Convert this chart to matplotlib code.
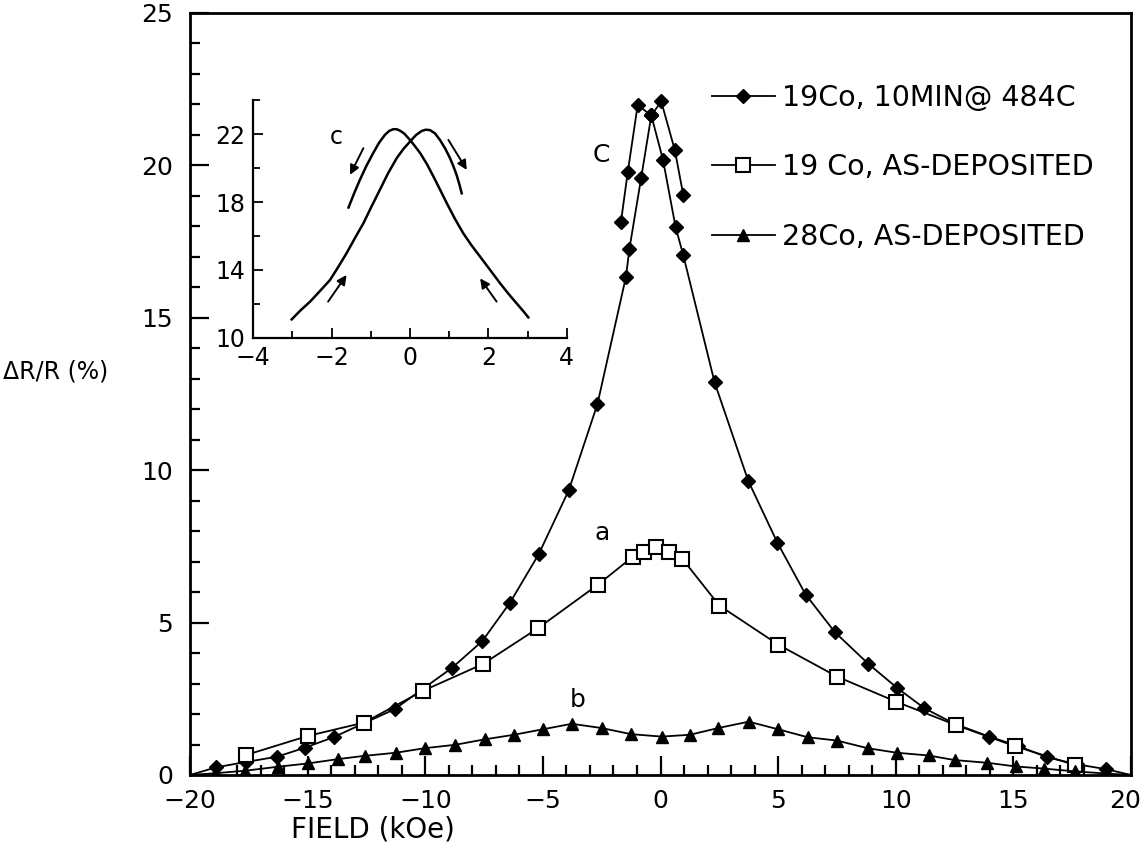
import matplotlib
matplotlib.use("Agg")
import matplotlib.pyplot as plt
from matplotlib.ticker import MultipleLocator
from matplotlib.transforms import ScaledTranslation

plt.rcParams['font.family'] = ['DejaVu Sans']

# ---- data: series c (19Co, 10 min @ 484C), diamonds ----
field_c = [-20, -18.9, -17.6, -16.3, -15.1, -13.9, -12.6, -11.3, -10.15, -8.87, -7.58,
           -6.4, -5.18, -3.9, -2.68, -1.47, -1.32, -0.82, -0.39, 0.11, 0.64, 0.97,
           2.3, 3.73, 4.97, 6.17, 7.42, 8.83, 10.07, 11.22, 12.5, 13.97, 15.2, 16.44,
           17.7, 18.95, 20]
dr_c = [0, 0.25, 0.43, 0.6, 0.9, 1.24, 1.7, 2.16, 2.8, 3.51, 4.39,
        5.65, 7.24, 9.34, 12.17, 16.34, 17.27, 19.60, 21.64, 20.17, 17.98, 17.05,
        12.88, 9.65, 7.62, 5.92, 4.68, 3.65, 2.85, 2.19, 1.68, 1.26, 0.95, 0.58,
        0.35, 0.19, 0]
field_c_left = [-1.68, -1.39, -0.97, -0.39]
dr_c_left = [18.15, 19.79, 21.98, 21.64]
field_c_right = [-0.39, 0.03, 0.61, 0.97]
dr_c_right = [21.64, 22.10, 20.50, 19.02]

# ---- series a (19Co, as-deposited), open squares ----
field_a = [-17.6, -15.0, -12.6, -10.1, -7.55, -5.2, -2.65, -1.18, -0.71, -0.18,
           0.35, 0.92, 2.5, 5.0, 7.5, 10.0, 12.55, 15.05, 17.6]
dr_a = [0.66, 1.28, 1.72, 2.76, 3.64, 4.82, 6.25, 7.16, 7.31, 7.48,
        7.31, 7.10, 5.56, 4.28, 3.23, 2.41, 1.64, 0.95, 0.33]

# ---- series b (28Co, as-deposited), triangles ----
field_b = [-20, -18.9, -17.66, -16.27, -14.98, -13.72, -12.57, -11.25, -10.02, -8.73,
           -7.47, -6.23, -5.0, -3.77, -2.5, -1.25, 0.05, 1.25, 2.45, 3.75, 5.0, 6.25,
           7.5, 8.8, 10.05, 11.4, 12.5, 13.9, 15.1, 16.3, 17.6, 18.9, 20]
dr_b = [0, 0.06, 0.14, 0.27, 0.38, 0.52, 0.63, 0.73, 0.88, 0.99,
        1.17, 1.32, 1.5, 1.68, 1.54, 1.34, 1.26, 1.32, 1.54, 1.75, 1.5, 1.24,
        1.13, 0.88, 0.73, 0.64, 0.49, 0.40, 0.28, 0.21, 0.12, 0.05, 0]

# ---- inset curves ----
inset_a_x = [-1.57, -1.42, -1.28, -1.11, -0.94, -0.79, -0.64, -0.53, -0.43, -0.34,
             -0.26, -0.15, -0.04, 0.1, 0.26, 0.43, 0.6, 0.77, 0.94, 1.15, 1.36,
             1.57, 1.79, 2.05, 2.3, 2.51, 2.72, 2.88, 3.02]
inset_a_y = [17.68, 18.55, 19.31, 20.15, 20.89, 21.5, 21.97, 22.2, 22.30, 22.3,
             22.22, 22.05, 21.77, 21.38, 20.89, 20.25, 19.5, 18.72, 17.93, 17.0, 16.16,
             15.45, 14.78, 13.98, 13.21, 12.6, 12.03, 11.6, 11.2]
inset_b_x = [-3.02, -2.8, -2.55, -2.3, -2.04, -1.83, -1.62, -1.4, -1.19, -0.98,
             -0.77, -0.56, -0.34, -0.17, 0.0, 0.15, 0.3, 0.4, 0.51, 0.64, 0.77,
             0.9, 1.02, 1.11, 1.19, 1.26, 1.32]
inset_b_y = [11.08, 11.6, 12.13, 12.75, 13.41, 14.18, 14.98, 15.9, 16.75, 17.75,
             18.72, 19.7, 20.59, 21.13, 21.57, 21.95, 22.2, 22.27, 22.25, 22.05, 21.65,
             21.15, 20.6, 20.1, 19.6, 19.05, 18.52]

labels = ["19Co, 10MIN@ 484C", "19 Co, AS-DEPOSITED", "28Co, AS-DEPOSITED"]
x_ticks = [-20, -15, -10, -5, 0, 5, 10, 15, 20]
y_ticks = [0, 5, 10, 15, 20, 25]
inset_x_ticks = [-4, -2, 0, 2, 4]
inset_y_ticks = [10, 14, 18, 22]

fig = plt.figure(figsize=(11.42, 8.44), dpi=100)
ax = fig.add_axes([190 / 1142, 1 - 775 / 844, (1131 - 190) / 1142, (775 - 13) / 844])

lw = 1.3
l1, = ax.plot(field_c, dr_c, color='black', lw=lw, marker='D', ms=7.5,
              markevery=slice(1, len(field_c) - 1))
ax.plot(field_c_left, dr_c_left, color='black', lw=lw, marker='D', ms=7.5)
ax.plot(field_c_right, dr_c_right, color='black', lw=lw, marker='D', ms=7.5)
l2, = ax.plot(field_a, dr_a, color='black', lw=lw, marker='s', ms=10,
              mfc='white', mec='black', mew=1.5)
l3, = ax.plot(field_b, dr_b, color='black', lw=lw, marker='^', ms=8,
              markevery=slice(1, len(field_b) - 1))

ax.set_xlim(-20, 20)
ax.set_ylim(0, 25)
ax.set_xticks(x_ticks)
ax.set_xticklabels([str(t).replace('-', '\u2212') for t in x_ticks])
ax.set_yticks(y_ticks)
ax.xaxis.set_minor_locator(MultipleLocator(1))
ax.yaxis.set_minor_locator(MultipleLocator(1))
ax.tick_params(which='both', direction='in', top=False, right=False, width=1.6,
               labelsize=18)
ax.tick_params(axis='x', pad=10)
ax.tick_params(axis='y', pad=12)
ax.tick_params(which='major', length=14)
ax.tick_params(which='minor', length=7)
for s in ax.spines.values():
    s.set_linewidth(2)

# keep the last x tick label inside the figure
last = ax.get_xticklabels()[-1]
last.set_horizontalalignment('right')
last.set_transform(last.get_transform() + ScaledTranslation(10 / 100, 0, fig.dpi_scale_trans))

ax.text(-2.5, 20.35, "C", fontsize=18, ha='center', va='center')
ax.text(-2.47, 7.95, "a", fontsize=18, ha='center', va='center')
ax.text(-3.52, 2.47, "b", fontsize=18, ha='center', va='center')

fig.text(0.003, 1 - 372 / 844, "ΔR/R (%)", fontsize=17, ha='left', va='center')
ax.set_xlabel("FIELD (kOe)", fontsize=20, x=(373 - 190) / 941, labelpad=2)

ax.legend([l1, l2, l3], labels, loc='upper left',
          bbox_to_anchor=((712 - 190) / 941, (775 - 84) / 762),
          frameon=False, fontsize=20.5, handlelength=2.2, handletextpad=0.25,
          labelspacing=1.45, borderpad=0, borderaxespad=0)

# ---- inset ----
axi = fig.add_axes([253.3 / 1142, 1 - 337.7 / 844, 313.4 / 1142, 237.3 / 844])
axi.plot(inset_a_x, inset_a_y, color='black', lw=1.8)
axi.plot(inset_b_x, inset_b_y, color='black', lw=1.8)
axi.set_xlim(-4, 4)
axi.set_ylim(10, 24)
axi.set_xticks(inset_x_ticks)
axi.set_xticklabels([str(t).replace('-', '\u2212') for t in inset_x_ticks])
axi.set_yticks(inset_y_ticks)
axi.xaxis.set_minor_locator(MultipleLocator(1))
axi.yaxis.set_minor_locator(MultipleLocator(2))
axi.spines['top'].set_visible(False)
axi.spines['right'].set_visible(False)
for s in ('left', 'bottom'):
    axi.spines[s].set_linewidth(1.6)
axi.tick_params(which='both', direction='in', width=1.3, labelsize=17, pad=6)
axi.tick_params(which='major', length=7)
axi.tick_params(which='minor', length=5)
axi.patch.set_alpha(0)

axi.text(-1.87, 21.87, "c", fontsize=17, ha='center', va='center')
arrows = [((-1.19, 21.18), (-1.53, 19.61)),
          ((0.98, 21.67), (1.45, 19.90)),
          ((-2.09, 12.13), (-1.62, 13.70)),
          ((2.21, 12.13), (1.79, 13.50))]
for start, end in arrows:
    axi.annotate('', xy=end, xytext=start,
                 arrowprops=dict(arrowstyle='-|>', lw=1.4, color='black',
                                 mutation_scale=14, shrinkA=0, shrinkB=0))

fig.savefig("out.png", dpi=100)
